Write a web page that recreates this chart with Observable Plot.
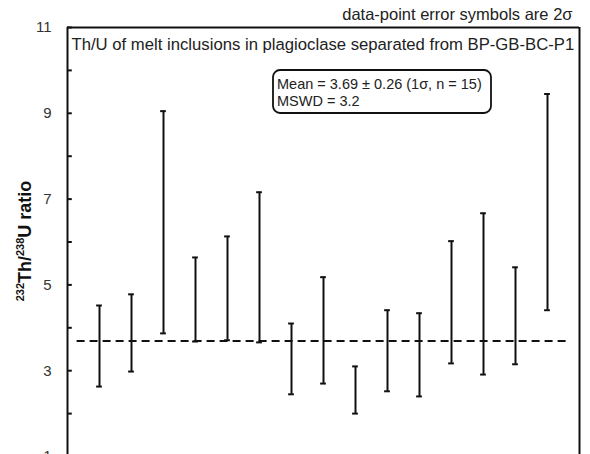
<!DOCTYPE html>
<html>
<head>
<meta charset="utf-8">
<script src="https://cdn.jsdelivr.net/npm/d3@7"></script>
<script src="https://cdn.jsdelivr.net/npm/@observablehq/plot@0.6"></script>
<style>
  html, body { margin: 0; padding: 0; background: #fff; }
  svg { font-family: "Liberation Sans", Arial, sans-serif; }
</style>
</head>
<body>
<div id="chart"></div>
<script>
// Data (2σ error bars, Th/U ratios)
const analysis = [1, 2, 3, 4, 5, 6, 7, 8, 9, 10, 11, 12, 13, 14, 15];
const upper = [4.52, 4.78, 9.05, 5.64, 6.13, 7.16, 4.10, 5.18, 3.10, 4.41, 4.34, 6.02, 6.67, 5.41, 9.45];
const lower = [2.63, 2.98, 3.87, 3.68, 3.71, 3.66, 2.45, 2.70, 2.00, 2.52, 2.40, 3.17, 2.91, 3.15, 4.41];
const meanValue = 3.69;
const majorTicks = [1, 3, 5, 7, 9, 11];
const minorTicks = [2, 4, 6, 8, 10];
const titleText = "Th/U of melt inclusions in plagioclase separated from BP-GB-BC-P1";
const noteText = "data-point error symbols are 2σ";
const statLines = ["Mean = 3.69 ± 0.26 (1σ, n = 15)", "MSWD = 3.2"];

const data = analysis.map((a, i) => ({a, hi: upper[i], lo: lower[i]}));
const allTicks = majorTicks.concat(minorTicks);
const capHalf = 0.09;
const tickLen = 0.15;

const plot = Plot.plot({
  width: 590,
  height: 454,
  marginLeft: 67,
  marginRight: 11,
  marginTop: 27,
  marginBottom: 0,
  style: {fontFamily: '"Liberation Sans", Arial, sans-serif', overflow: "visible"},
  x: {domain: [0, 16], axis: null},
  y: {domain: [1, 11], range: [456, 27], axis: null},
  marks: [
    // frame (left, right, top)
    Plot.ruleX([0, 16], {y1: 1, y2: 11, stroke: "#111", strokeWidth: 2}),
    Plot.ruleY([11], {x1: 0, x2: 16, stroke: "#111", strokeWidth: 2}),
    // inward ticks
    Plot.ruleY(allTicks, {y: d => d, x1: 0, x2: tickLen, stroke: "#111", strokeWidth: 2}),
    // tick labels
    Plot.text(majorTicks, {y: d => d, x: 0, text: d => String(d), dx: -16, textAnchor: "end", fontSize: 15, fill: "#333"}),
    // mean line
    Plot.ruleY([meanValue], {x1: 0.3, x2: 15.7, stroke: "#111", strokeWidth: 2, strokeDasharray: "8,5"}),
    // error bars
    Plot.ruleX(data, {x: "a", y1: "lo", y2: "hi", stroke: "#111", strokeWidth: 2}),
    Plot.ruleY(data, {y: "hi", x1: d => d.a - capHalf, x2: d => d.a + capHalf, stroke: "#111", strokeWidth: 2}),
    Plot.ruleY(data, {y: "lo", x1: d => d.a - capHalf, x2: d => d.a + capHalf, stroke: "#111", strokeWidth: 2}),
    // title inside frame
    Plot.text([titleText], {frameAnchor: "top-left", dx: 4, dy: 11, textAnchor: "start", lineAnchor: "top", fontSize: 16.7, fill: "#222"}),
    // note above frame
    Plot.text([noteText], {frameAnchor: "top-right", dx: -7, dy: -8, textAnchor: "end", lineAnchor: "bottom", fontSize: 16.5, fill: "#222"})
  ]
});

const svg = d3.select(plot);
// statistics box
const bx = 273, by = 70, bw = 218, bh = 43;
svg.append("rect").attr("x", bx).attr("y", by).attr("width", bw).attr("height", bh)
  .attr("rx", 7).attr("ry", 7).attr("fill", "white").attr("stroke", "#111").attr("stroke-width", 1.8);
statLines.forEach((t, i) => {
  svg.append("text").attr("x", bx + 4).attr("y", by + 19 + i * 17)
    .attr("text-anchor", "start")
    .attr("font-size", 14.5).attr("fill", "#222").text(t);
});
// y-axis label with superscripts
const yl = svg.append("text")
  .attr("transform", "translate(31,241) rotate(-90)")
  .attr("text-anchor", "middle")
  .attr("font-size", 18).attr("font-weight", "bold").attr("fill", "#111");
yl.append("tspan").attr("font-size", 11).attr("dy", -7).text("232");
yl.append("tspan").attr("dy", 7).text("Th/");
yl.append("tspan").attr("font-size", 11).attr("dy", -7).text("238");
yl.append("tspan").attr("dy", 7).text("U ratio");

document.getElementById("chart").appendChild(plot);
</script>
</body>
</html>
